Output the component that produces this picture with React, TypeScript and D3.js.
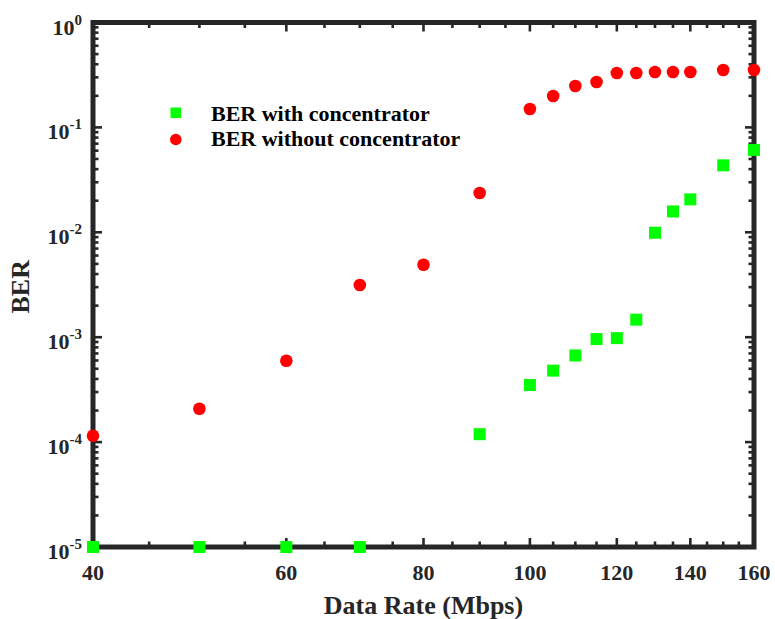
import React from "react";
import * as d3 from "d3";

const dataRates = [40, 50, 60, 70, 80, 90, 100, 105, 110, 115, 120, 125, 130, 135, 140, 150, 160];
const berWithout = [1.15e-4, 2.08e-4, 5.97e-4, 3.15e-3, 4.91e-3, 0.0237, 0.15, 0.199, 0.248, 0.271, 0.33, 0.33, 0.337, 0.337, 0.337, 0.352, 0.352];
const withRates = [40, 50, 60, 70, 90, 100, 105, 110, 115, 120, 125, 130, 135, 140, 150, 160];
const berWith = [1e-5, 1e-5, 1e-5, 1e-5, 1.19e-4, 3.5e-4, 4.8e-4, 6.7e-4, 9.6e-4, 9.8e-4, 1.47e-3, 9.9e-3, 0.0158, 0.0206, 0.0435, 0.061];

const xMajorTicks = [40, 60, 80, 100, 120, 140, 160];
const xTickLabels = ["40", "60", "80", "100", "120", "140", "160"];
const xAllTicks = d3.range(40, 161, 5);
const yDecades = [0, -1, -2, -3, -4, -5];
const yTickLabels = ["0", "-1", "-2", "-3", "-4", "-5"];
const legendLabels = ["BER with concentrator", "BER without concentrator"];
const xTitle = "Data Rate (Mbps)";
const yTitle = "BER";

const W = 775;
const H = 619;
const L = 93, R = 754, T = 22.5, B = 547;
const AX = "#262626";
const FONT = "'Liberation Serif', 'Times New Roman', Times, serif";

export default function App() {
  const x = d3.scaleLog().domain([40, 160]).range([L, R]);
  const y = d3.scaleLog().domain([1e-5, 1]).range([B, T]);

  const yMinor: number[] = [];
  for (let e = -5; e < 0; e++) {
    for (let k = 2; k <= 9; k++) yMinor.push(k * Math.pow(10, e));
  }
  const xMinor = xAllTicks.filter((v) => !xMajorTicks.includes(v));

  const majLen = 9;
  const minLen = 5.5;
  const tickW = 2.6;

  return (
    <svg width={W} height={H} style={{ position: "absolute", left: 0, top: 0, background: "#fff" }} fontFamily={FONT}>
      <rect x={0} y={0} width={W} height={H} fill="#fff" />
      {/* ticks */}
      <g stroke={AX} strokeWidth={tickW}>
        {xMajorTicks.map((v) => (
          <g key={"xm" + v}>
            <line x1={x(v)} x2={x(v)} y1={B} y2={B - majLen} />
            <line x1={x(v)} x2={x(v)} y1={T} y2={T + majLen} />
          </g>
        ))}
        {xMinor.map((v) => (
          <g key={"xn" + v}>
            <line x1={x(v)} x2={x(v)} y1={B} y2={B - minLen} />
            <line x1={x(v)} x2={x(v)} y1={T} y2={T + minLen} />
          </g>
        ))}
        {yDecades.map((e) => (
          <g key={"ym" + e}>
            <line x1={L} x2={L + majLen} y1={y(Math.pow(10, e))} y2={y(Math.pow(10, e))} />
            <line x1={R} x2={R - majLen} y1={y(Math.pow(10, e))} y2={y(Math.pow(10, e))} />
          </g>
        ))}
        {yMinor.map((v, i) => (
          <g key={"yn" + i}>
            <line x1={L} x2={L + minLen} y1={y(v)} y2={y(v)} />
            <line x1={R} x2={R - minLen} y1={y(v)} y2={y(v)} />
          </g>
        ))}
      </g>
      {/* frame */}
      <rect x={L} y={T} width={R - L} height={B - T} fill="none" stroke={AX} strokeWidth={5} />

      {/* x tick labels */}
      {xMajorTicks.map((v, i) => (
        <text key={"xl" + v} x={x(v)} y={580} textAnchor="middle" fontSize={22} fontWeight="bold" fill={AX}>
          {xTickLabels[i]}
        </text>
      ))}
      {/* y tick labels */}
      {yDecades.map((e, i) => (
        <text key={"yl" + e} x={82} y={y(Math.pow(10, e)) + 12} textAnchor="end" fontSize={22} fontWeight="bold" fill={AX}>
          <tspan>10</tspan>
          <tspan dy={-10} fontSize={15}>{yTickLabels[i]}</tspan>
        </text>
      ))}
      {/* axis titles */}
      <text x={(L + R) / 2} y={614} textAnchor="middle" fontSize={26} fontWeight="bold" fill={AX}>
        {xTitle}
      </text>
      <text transform={`translate(29.3,${(T + B) / 2 + 2}) rotate(-90)`} textAnchor="middle" fontSize={26} fontWeight="bold" fill={AX}>
        {yTitle}
      </text>

      {/* data */}
      {withRates.map((r, i) => (
        <rect key={"g" + i} x={x(r) - 6} y={y(berWith[i]) - 6} width={12} height={12} fill="#00ff00" />
      ))}
      {dataRates.map((r, i) => (
        <circle key={"r" + i} cx={x(r)} cy={y(berWithout[i])} r={6.3} fill="#ff0000" />
      ))}

      {/* legend */}
      <rect x={170.5} y={107.5} width={10.5} height={10.5} fill="#00ff00" />
      <circle cx={175.8} cy={139.5} r={5.8} fill="#ff0000" />
      <text x={211} y={121} fontSize={22} fontWeight="bold" fill="#000">{legendLabels[0]}</text>
      <text x={211} y={146} fontSize={22} fontWeight="bold" fill="#000">{legendLabels[1]}</text>
    </svg>
  );
}
